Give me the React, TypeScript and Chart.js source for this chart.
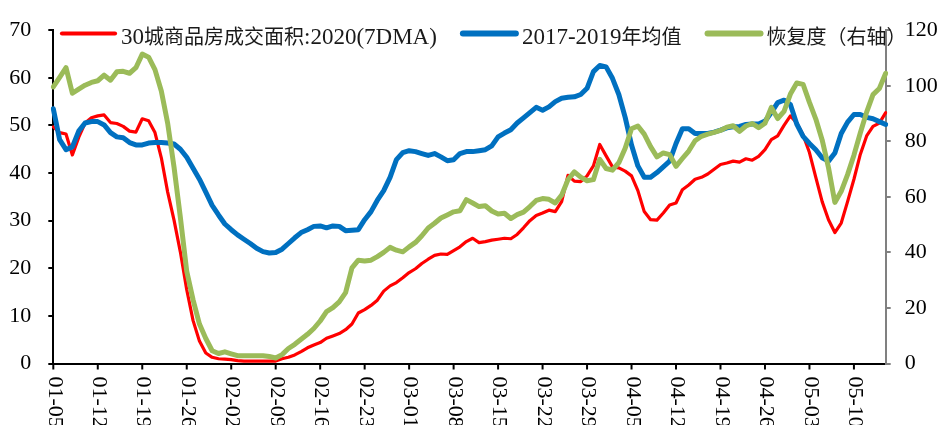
import React, { useEffect, useRef } from 'react';
import { Chart, registerables } from 'chart.js';

Chart.register(...registerables);

// ---------- data ----------
const START_DATE = '2020-01-05';
const DAY_COUNT = 132;

function buildDates(start: string, n: number): string[] {
  const out: string[] = [];
  const d0 = new Date(start + 'T00:00:00Z');
  for (let i = 0; i < n; i++) {
    const d = new Date(d0.getTime() + i * 86400000);
    const mm = String(d.getUTCMonth() + 1).padStart(2, '0');
    const dd = String(d.getUTCDate()).padStart(2, '0');
    out.push(`${mm}-${dd}`);
  }
  return out;
}

const CATEGORIES = buildDates(START_DATE, DAY_COUNT);

const TICK_LABELS = [
  '01-05', '01-12', '01-19', '01-26', '02-02', '02-09', '02-16', '02-23', '03-01', '03-08',
  '03-15', '03-22', '03-29', '04-05', '04-12', '04-19', '04-26', '05-03', '05-10',
];

const SERIES_NAMES = ['30城商品房成交面积:2020(7DMA)', '2017-2019年均值', '恢复度（右轴）'];

const AREA_2020 = [
  49.7, 48.5, 48.2, 43.8, 47.5, 50.5, 51.6, 52.0, 52.2, 50.6,
  50.4, 49.8, 48.8, 48.6, 51.4, 51.0, 48.5, 43.2, 36.0, 30.1,
  23.4, 15.5, 9.0, 4.7, 2.2, 1.3, 1.0, 0.9, 0.8, 0.6,
  0.5, 0.5, 0.5, 0.5, 0.5, 0.5, 1.0, 1.3, 1.8, 2.5,
  3.3, 3.9, 4.4, 5.3, 5.8, 6.3, 7.1, 8.3, 10.6, 11.3,
  12.2, 13.3, 15.2, 16.3, 17.0, 18.0, 19.1, 19.9, 21.0, 21.9,
  22.7, 23.0, 22.9, 23.7, 24.5, 25.6, 26.3, 25.4, 25.6, 25.9,
  26.1, 26.3, 26.2, 27.1, 28.5, 30.0, 31.1, 31.6, 32.2, 31.9,
  34.0, 39.5, 38.3, 38.2, 39.4, 41.5, 46.0, 43.6, 41.3, 41.1,
  40.4, 39.4, 36.3, 31.9, 30.2, 30.1, 31.6, 33.3, 33.7, 36.5,
  37.5, 38.7, 39.1, 39.8, 40.8, 41.8, 42.1, 42.5, 42.3, 43.0,
  42.7, 43.5, 44.9, 47.0, 47.8, 50.0, 52.0, 50.5, 48.0, 44.3,
  39.1, 34.0, 30.2, 27.5, 29.5, 34.0, 38.7, 43.9, 47.8, 49.8,
  50.5, 52.7,
];

const AVG_2017_2019 = [
  53.5, 47.0, 44.9, 45.5, 48.8, 50.5, 50.8, 50.8, 50.1, 48.5,
  47.6, 47.4, 46.4, 45.9, 45.9, 46.3, 46.4, 46.4, 46.3, 46.1,
  45.0, 43.3, 41.0, 38.7, 36.0, 33.2, 31.2, 29.3, 28.1, 27.0,
  26.1, 25.2, 24.2, 23.5, 23.2, 23.3, 24.0, 25.2, 26.4, 27.5,
  28.1, 28.8, 28.9, 28.5, 28.9, 28.8, 27.9, 28.0, 28.1, 30.2,
  31.9, 34.3, 36.3, 39.1, 42.8, 44.3, 44.7, 44.5, 44.1, 43.7,
  44.1, 43.4, 42.6, 42.8, 44.1, 44.5, 44.5, 44.7, 44.9, 45.7,
  47.6, 48.4, 49.1, 50.5, 51.6, 52.7, 53.8, 53.2, 53.9, 55.0,
  55.7, 55.9, 56.0, 56.5, 57.8, 61.3, 62.6, 62.3, 59.9, 56.5,
  51.7, 45.9, 41.5, 39.1, 39.1, 40.1, 41.3, 42.5, 46.2, 49.3,
  49.3, 48.3, 48.3, 48.3, 48.6, 49.0, 49.5, 49.7, 49.8, 50.2,
  50.3, 50.3, 50.9, 52.7, 54.8, 55.3, 54.4, 50.3, 47.7, 46.2,
  44.9, 43.2, 42.5, 44.2, 48.3, 50.7, 52.3, 52.3, 51.7, 51.4,
  50.8, 50.2,
];

const RECOVERY = [
  99.6, 103.0, 106.5, 97.3, 98.8, 100.2, 101.2, 101.8, 103.8, 102.0,
  105.0, 105.2, 104.5, 106.5, 111.4, 110.3, 105.8, 98.1, 86.5, 70.7,
  52.5, 33.2, 22.9, 14.2, 9.0, 4.6, 3.6, 4.2, 3.5, 2.8,
  2.8, 2.8, 2.8, 2.8, 2.5, 2.0, 3.2, 5.4, 6.9, 8.7,
  10.5, 12.6, 15.3, 18.7, 20.1, 22.2, 25.5, 34.4, 37.2, 36.9,
  37.2, 38.5, 40.0, 41.8, 40.8, 40.2, 42.0, 43.6, 46.0, 48.8,
  50.5, 52.4, 53.5, 54.6, 55.0, 59.0, 57.8, 56.5, 56.8, 54.9,
  53.8, 54.1, 52.2, 53.6, 54.5, 56.5, 58.7, 59.4, 59.1, 57.8,
  60.6, 66.2, 69.0, 67.1, 65.8, 66.2, 73.5, 70.2, 69.6, 72.3,
  77.5, 84.5, 85.5, 82.6, 78.1, 74.4, 75.8, 75.2, 71.0, 73.8,
  76.5, 80.2, 81.8, 82.6, 83.2, 83.9, 85.1, 85.6, 83.6, 85.5,
  86.4, 84.9, 86.5, 92.2, 88.2, 90.8, 97.0, 101.0, 100.5, 94.0,
  88.0, 80.5, 70.5, 58.0, 62.0, 68.0, 75.0, 83.0, 90.5, 96.8,
  99.0, 104.5,
];

// ---------- styling ----------
const FONT = '"Times New Roman", "Liberation Serif", "Noto Sans CJK SC", serif';
const LATIN_FONT = '23px "Times New Roman", "Liberation Serif", serif';
const CJK_FONT = '20px "Noto Sans CJK SC", sans-serif';
const COLORS = ['#FF0000', '#0070C0', '#9BBB59'];
const LINE_WIDTHS = [3.2, 5, 5];

const CJK_RE = /[\u2E80-\u9FFF\uFF00-\uFFEF\u3000-\u303F]/;

function splitRuns(text: string): { cjk: boolean; s: string }[] {
  const runs: { cjk: boolean; s: string }[] = [];
  for (const ch of text) {
    const cjk = CJK_RE.test(ch);
    const last = runs[runs.length - 1];
    if (last && last.cjk === cjk) last.s += ch;
    else runs.push({ cjk, s: ch });
  }
  return runs;
}

const customPlugin = {
  id: 'customAxisAndLegend',
  afterDraw(chart: any) {
    const { ctx, chartArea, scales } = chart;
    const xs = scales.x;
    ctx.save();
    // x tick marks and rotated labels
    ctx.strokeStyle = '#000';
    ctx.lineWidth = 2;
    ctx.fillStyle = '#000';
    ctx.font = `22px ${FONT}`;
    ctx.textAlign = 'left';
    ctx.textBaseline = 'middle';
    TICK_LABELS.forEach((lbl) => {
      const idx = CATEGORIES.indexOf(lbl);
      if (idx < 0) return;
      const x = xs.getPixelForValue(idx);
      ctx.beginPath();
      ctx.moveTo(x, chartArea.bottom);
      ctx.lineTo(x, chartArea.bottom + 6);
      ctx.stroke();
      ctx.save();
      ctx.translate(x + 1, chartArea.bottom + 13);
      ctx.rotate(Math.PI / 2);
      ctx.fillText(lbl, 0, 0);
      ctx.restore();
    });

    // legend
    ctx.textAlign = 'left';
    ctx.textBaseline = 'alphabetic';
    let x = 62;
    const yLine = 33.5;
    const yBase = 43.5;
    const sampleLen = 53;
    SERIES_NAMES.forEach((name, i) => {
      ctx.beginPath();
      ctx.strokeStyle = COLORS[i];
      ctx.lineWidth = LINE_WIDTHS[i] + 1;
      ctx.lineCap = 'round';
      ctx.moveTo(x, yLine);
      ctx.lineTo(x + sampleLen, yLine);
      ctx.stroke();
      ctx.fillStyle = '#1a1a1a';
      let tx = x + sampleLen + 6;
      splitRuns(name).forEach((run) => {
        ctx.font = run.cjk ? CJK_FONT : LATIN_FONT;
        ctx.fillText(run.s, tx, yBase);
        tx += ctx.measureText(run.s).width;
      });
      x = tx + 26;
    });
    ctx.restore();
  },
};

export default function App() {
  const canvasRef = useRef<HTMLCanvasElement | null>(null);

  useEffect(() => {
    document.body.style.margin = '0';
    const canvas = canvasRef.current;
    if (!canvas) return;
    const chart = new Chart(canvas, {
      type: 'line',
      data: {
        labels: CATEGORIES,
        datasets: [
          {
            label: SERIES_NAMES[0],
            data: AREA_2020,
            borderColor: COLORS[0],
            borderWidth: LINE_WIDTHS[0],
            yAxisID: 'y',
            order: 3,
          },
          {
            label: SERIES_NAMES[1],
            data: AVG_2017_2019,
            borderColor: COLORS[1],
            borderWidth: LINE_WIDTHS[1],
            yAxisID: 'y',
            order: 2,
          },
          {
            label: SERIES_NAMES[2],
            data: RECOVERY,
            borderColor: COLORS[2],
            borderWidth: LINE_WIDTHS[2],
            yAxisID: 'y1',
            order: 1,
          },
        ],
      },
      options: {
        responsive: false,
        animation: false,
        devicePixelRatio: 1,
        layout: { padding: { top: 22, left: 0, right: 0, bottom: 0 } },
        plugins: {
          legend: { display: false },
          tooltip: { enabled: false },
        },
        elements: {
          point: { radius: 0, hoverRadius: 0 },
          line: { tension: 0, fill: false, borderJoinStyle: 'round', borderCapStyle: 'round' },
        },
        scales: {
          x: {
            type: 'category',
            offset: false,
            grid: { display: false },
            border: { display: true, color: '#000', width: 2 },
            ticks: { display: false, autoSkip: false },
            afterFit: (s: any) => {
              s.height = 61.5;
            },
          },
          y: {
            position: 'left',
            min: 0,
            max: 70,
            ticks: { stepSize: 10, color: '#000', padding: 17, font: { family: FONT, size: 22 } },
            grid: { drawOnChartArea: false, drawTicks: true, tickLength: 5, color: '#000', lineWidth: 2 },
            border: { display: true, color: '#000', width: 2 },
            afterFit: (s: any) => {
              s.width = 53.3;
            },
          },
          y1: {
            position: 'right',
            min: 0,
            max: 120,
            ticks: { stepSize: 20, color: '#000', padding: 14, font: { family: FONT, size: 22 } },
            grid: { drawOnChartArea: false, drawTicks: true, tickLength: 5, color: '#808080', lineWidth: 2 },
            border: { display: true, color: '#808080', width: 2 },
            afterFit: (s: any) => {
              s.width = 54.3;
            },
          },
        },
      } as any,
      plugins: [customPlugin],
    });
    return () => chart.destroy();
  }, []);

  return (
    <div style={{ width: 940, height: 425, position: 'relative', background: '#fff' }}>
      <canvas ref={canvasRef} width={940} height={425} style={{ display: 'block' }} />
    </div>
  );
}
